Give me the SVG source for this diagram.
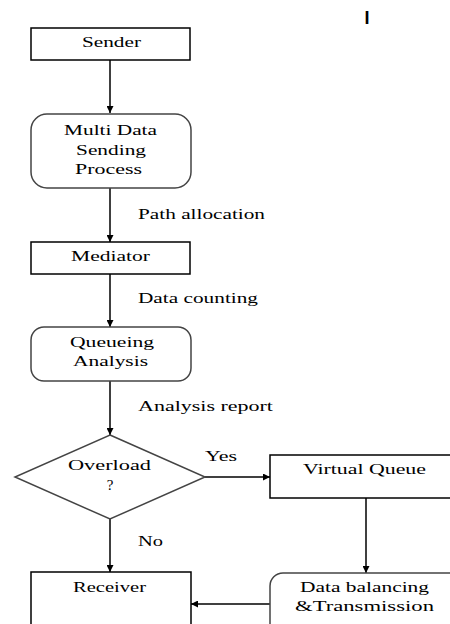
<svg xmlns="http://www.w3.org/2000/svg" width="450" height="624" viewBox="0 0 450 624">
<defs>
<style>
.box{fill:#fff;stroke:#000;stroke-width:1.5}
.rbox{fill:#fff;stroke:#444;stroke-width:1.5}
.lbl{font-family:"Liberation Serif","DejaVu Serif","Times New Roman",serif;font-size:15px;fill:#000}
.c{text-anchor:middle}
.ln{stroke:#000;stroke-width:1.5;fill:none}
</style>
<marker id="ah" viewBox="0 0 10 10" refX="10" refY="5" markerWidth="7" markerHeight="7" markerUnits="userSpaceOnUse" orient="auto">
<path d="M0,0 L10,5 L0,10 z" fill="#000"/>
</marker>
</defs>
<rect width="450" height="624" fill="#fff"/>
<text x="367" y="24" font-family="Liberation Sans, Arial, sans-serif" font-size="18" font-weight="bold" text-anchor="middle">I</text>
<g id="connectors">
<line class="ln" x1="110" y1="60" x2="110" y2="113" marker-end="url(#ah)"/>
<line class="ln" x1="110" y1="188" x2="110" y2="242" marker-end="url(#ah)"/>
<line class="ln" x1="110" y1="274" x2="110" y2="327" marker-end="url(#ah)"/>
<line class="ln" x1="110" y1="381" x2="110" y2="435" marker-end="url(#ah)"/>
<line class="ln" x1="205" y1="477" x2="270" y2="477" marker-end="url(#ah)"/>
<line class="ln" x1="110" y1="519" x2="110" y2="572" marker-end="url(#ah)"/>
<line class="ln" x1="366" y1="498" x2="366" y2="573" marker-end="url(#ah)"/>
<line class="ln" x1="270" y1="604" x2="191" y2="604" marker-end="url(#ah)"/>
<text class="lbl" font-family="Liberation Serif, DejaVu Serif, serif" x="138" y="219" textLength="127" lengthAdjust="spacingAndGlyphs">Path allocation</text>
<text class="lbl" font-family="Liberation Serif, DejaVu Serif, serif" x="138" y="303" textLength="120" lengthAdjust="spacingAndGlyphs">Data counting</text>
<text class="lbl" font-family="Liberation Serif, DejaVu Serif, serif" x="138" y="411" textLength="135" lengthAdjust="spacingAndGlyphs">Analysis report</text>
<text class="lbl" font-family="Liberation Serif, DejaVu Serif, serif" x="205" y="461" textLength="32" lengthAdjust="spacingAndGlyphs">Yes</text>
<text class="lbl" font-family="Liberation Serif, DejaVu Serif, serif" x="138" y="546" textLength="25" lengthAdjust="spacingAndGlyphs">No</text>
</g>
<g id="sender" font-family="Liberation Serif, DejaVu Serif, serif">
<rect class="box" x="31" y="28" width="159" height="32"/>
<text class="lbl" x="82" y="47" textLength="59" lengthAdjust="spacingAndGlyphs">Sender</text>
</g>
<g id="multi" font-family="Liberation Serif, DejaVu Serif, serif">
<rect class="rbox" x="31" y="114" width="160" height="74" rx="16"/>
<text class="lbl" x="64" y="135" textLength="93" lengthAdjust="spacingAndGlyphs">Multi Data</text>
<text class="lbl" x="76" y="155" textLength="70" lengthAdjust="spacingAndGlyphs">Sending</text>
<text class="lbl" x="75" y="174" textLength="67" lengthAdjust="spacingAndGlyphs">Process</text>
</g>
<g id="mediator" font-family="Liberation Serif, DejaVu Serif, serif">
<rect class="box" x="31" y="242" width="159" height="32"/>
<text class="lbl" x="71" y="261" textLength="79" lengthAdjust="spacingAndGlyphs">Mediator</text>
</g>
<g id="queueing" font-family="Liberation Serif, DejaVu Serif, serif">
<rect class="rbox" x="31" y="327" width="160" height="54" rx="13"/>
<text class="lbl" x="70" y="347" textLength="84" lengthAdjust="spacingAndGlyphs">Queueing</text>
<text class="lbl" x="73" y="366" textLength="75" lengthAdjust="spacingAndGlyphs">Analysis</text>
</g>
<g id="overload" font-family="Liberation Serif, DejaVu Serif, serif">
<polygon class="rbox" points="110,435 205,477 110,519 15,477"/>
<text class="lbl" x="68" y="470" textLength="83" lengthAdjust="spacingAndGlyphs">Overload</text>
<text class="lbl c" x="110" y="490">?</text>
</g>
<g id="virtual" font-family="Liberation Serif, DejaVu Serif, serif">
<rect class="box" x="270" y="455" width="200" height="43"/>
<text class="lbl" x="303" y="474" textLength="123" lengthAdjust="spacingAndGlyphs">Virtual Queue</text>
</g>
<g id="balancing" font-family="Liberation Serif, DejaVu Serif, serif">
<rect class="rbox" x="270" y="573" width="200" height="80" rx="13"/>
<text class="lbl" x="300" y="592" textLength="129" lengthAdjust="spacingAndGlyphs">Data balancing</text>
<text class="lbl" x="295" y="611" textLength="139" lengthAdjust="spacingAndGlyphs">&amp;Transmission</text>
</g>
<g id="receiver" font-family="Liberation Serif, DejaVu Serif, serif">
<rect class="box" x="31" y="572" width="160" height="80"/>
<text class="lbl" x="73" y="592" textLength="73" lengthAdjust="spacingAndGlyphs">Receiver</text>
</g>
</svg>
